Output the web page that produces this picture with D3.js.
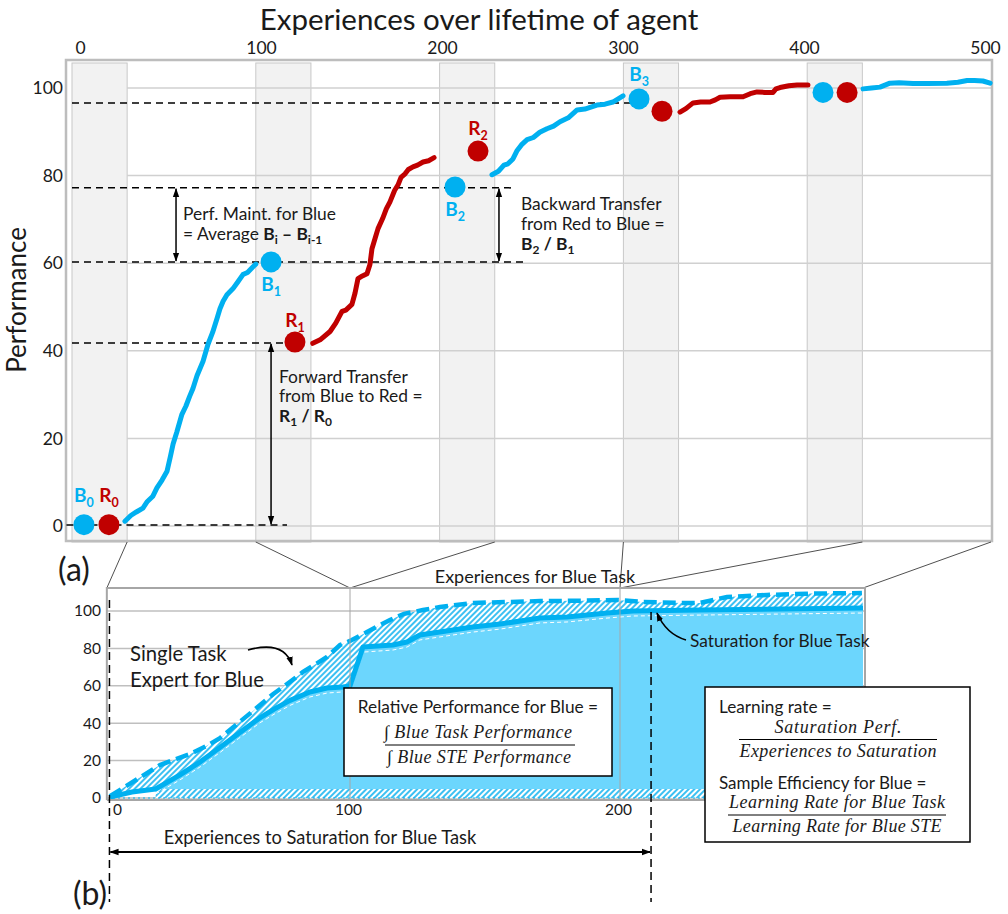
<!DOCTYPE html>
<html><head><meta charset="utf-8">
<script src="https://cdn.jsdelivr.net/npm/d3@7"></script>
<style>
body{margin:0;background:#fff}
svg{display:block}
text{font-family:Lato,"Open Sans",sans-serif;fill:#1a1a1a}
.math{font-family:"Liberation Serif",serif;font-style:italic}
</style>
</head><body>
<svg id="c" width="1008" height="914"></svg>
<script>
// ---------------- DATA ----------------
const topTicks = [0,100,200,300,400,500];
const perfTicks = [0,20,40,60,80,100];
const evalBands = [0,100,200,300,400];     // start of each evaluation block
const evalWidth = 30;

// panel (a) learning curves  [experience, performance]
const blueA1 = [[28.8,1.1],[32,2.4],[35,3.2],[38.6,4.1],[41,5.6],[44,6.8],[46.2,8.7],[49,10.5],[51.7,12.5],[53.5,15.8],[55,18.7],[57,21.4],[59.8,25.5],[62,27.4],[64,29.6],[65.8,31.4],[68,34.3],[71.3,37.6],[74,41.5],[76.5,44.2],[78.9,47.4],[80.5,49.6],[82.2,51.3],[84.3,52.8],[87.6,54.2],[90,55.6],[93,57.4],[95.5,57.9],[98.5,59.2],[100,59.8]];
const redA1 = [[131,41.7],[135,42.5],[140.4,44.4],[143.5,46.3],[146.9,49],[149,49.3],[152.3,50.6],[154,53.2],[155.6,56.5],[158,57.1],[160.5,57.6],[162.1,59.7],[163.2,63.3],[165,65.8],[166.5,67.9],[169,70.2],[171,72.4],[173,74],[175.5,76.6],[177.4,77.9],[179,79.6],[181.2,80.4],[183,81.4],[185.5,82],[188,82.4],[191,83.1],[194,83.4],[197,84.1]];
const blueA2 = [[228.5,80.2],[232,81],[235,82.4],[237.2,82.7],[239.9,83.8],[242,85.6],[244.5,87],[247.6,88.2],[251,88.7],[254.5,89.9],[258.4,90.7],[262,91.3],[265.5,92.3],[270,93.2],[274.8,95],[279,95.2],[285.6,96.1],[290,96.3],[294.3,96.8],[299.8,98.2]];
const redA2 = [[330.8,94.5],[334,95.3],[337.9,96.6],[342,96.8],[347.1,96.8],[350,97.3],[352.6,97.9],[358,98],[365.1,98],[369,98.7],[372.7,99.1],[377,99],[381.4,99],[383,99.8],[385.2,100.1],[390,100.5],[394.5,100.7],[400.4,100.7]];
const blueA3 = [[430.4,99.8],[435,100],[439.6,100.2],[445,101.1],[450,101.2],[457.6,101],[465,101],[476,101.1],[482,101.3],[487,101.7],[491,101.7],[495.6,101.6],[499.5,101.1]];

// evaluation points
const blueEval = [[6.5,0.3],[108.3,60.3],[208.4,77.4],[308.5,97.5],[408.6,99]];
const redEval  = [[20.1,0.3],[121.3,42],[220.9,85.6],[321,94.7],[421.7,99]];

// reference (dashed) levels: [level, fromX, toX]
const refLevels = [[0.2,-3,117],[41.8,0,118.6],[60.3,0,247.6],[77.2,0,241],[96.6,0,303.6]];
// measurement arrows: [x, fromLevel, toLevel]
const measureArrows = [[56.6,77.2,60.3],[108.3,41.8,0.2],[232.3,77.2,60.3]];

// panel (b): blue task vs single-task expert (STE)
const bTicksX = [0,100,200];
const bTicksY = [0,20,40,60,80,100];
const steB = [[-1.3,1],[4.2,5.3],[12,11.5],[19.8,17.6],[26,20.5],[32.5,23.5],[39,27.5],[45.1,32],[52.3,39.5],[60,47.5],[67.5,55.5],[74,61.5],[80.2,67.4],[90.3,75.4],[95.8,81.8],[100,84],[106.3,88.8],[114.8,95.2],[120,98.5],[127,100.5],[133.3,102.1],[145.5,104.3],[158,104.8],[170.4,105.3],[185,105.5],[198.9,105.9],[208.5,104.8],[223.3,104.3],[229.6,104.3],[239.6,107.5],[254.4,108.6],[270,109.3],[289.6,109.6]];
const blueB = [[-1.3,0.5],[8,3.2],[18,4.8],[28.3,12.4],[37,19.5],[45.1,27],[53,34.5],[62,42.9],[68,47.5],[74.7,52.2],[83.1,56.7],[90.3,58.8],[97,59.4],[100,59.9],[104.8,80.7],[115.9,81.8],[121.1,83.4],[125.9,87.2],[133.3,88.8],[145.5,91.4],[155.6,93],[170.4,96.3],[180.4,96.8],[195.2,98.9],[204.8,100],[229.6,100.5],[290,101.6]];
const bottomStrip = [18,290,4.8];     // [fromX, toX, height]
const saturationX = 211.5;
const segmentEdges = [100,200];

// ---------------- DRAW ----------------
const svg = d3.select('#c');
const defs = svg.append('defs');
const pat = defs.append('pattern').attr('id','hatch').attr('patternUnits','userSpaceOnUse')
  .attr('width',4).attr('height',4).attr('patternTransform','rotate(45)');
pat.append('rect').attr('width',4).attr('height',4).attr('fill','#ffffff');
pat.append('rect').attr('width',2).attr('height',4).attr('fill','#3cc0f2');
defs.append('marker').attr('id','ah').attr('viewBox','0 0 10 10').attr('refX',9).attr('refY',5)
  .attr('markerUnits','userSpaceOnUse').attr('markerWidth',9).attr('markerHeight',9)
  .attr('orient','auto-start-reverse')
  .append('path').attr('d','M0,1.5 L10,5 L0,8.5 z').attr('fill','#000');

const BLUE = '#00b0f0', RED = '#c00000';

// ===== Panel (a) =====
const x = d3.scaleLinear().domain([0,500]).range([72,991]);
const y = d3.scaleLinear().domain([0,100]).range([526,88]);
const xTop = x.copy().range([80,985]);
const aTop = 60, aBottom = 541;

svg.append('text').attr('x',479).attr('y',30).attr('text-anchor','middle')
  .style('font-size','29.5px').text('Experiences over lifetime of agent');

const gTop = svg.append('g').attr('transform','translate(0,54)')
  .call(d3.axisTop(xTop).tickValues(topTicks).tickSize(0).tickPadding(0).tickFormat(d3.format('d')));
gTop.select('.domain').remove();
gTop.selectAll('text').style('font-size','17.5px').attr('fill','#1a1a1a').attr('font-family','Lato');

const gLeft = svg.append('g').attr('transform','translate(63,0)')
  .call(d3.axisLeft(y).tickValues(perfTicks).tickSize(0).tickPadding(0));
gLeft.select('.domain').remove();
gLeft.selectAll('text').style('font-size','17.5px').attr('fill','#1a1a1a').attr('font-family','Lato');

svg.append('text').attr('transform','translate(26,300) rotate(-90)').attr('text-anchor','middle')
  .style('font-size','26px').text('Performance');

// bands
svg.append('g').selectAll('rect').data(evalBands).join('rect')
  .attr('x',d=>x(d)).attr('width',d=>x(d+evalWidth)-x(d))
  .attr('y',63).attr('height',aBottom-63+1)
  .attr('fill','#f2f2f2').attr('stroke','#c8c8c8').attr('stroke-width',1);
// gridlines
svg.append('g').selectAll('line').data(perfTicks).join('line')
  .attr('x1',x(evalWidth)).attr('x2',x(500)).attr('y1',d=>y(d)).attr('y2',d=>y(d))
  .attr('stroke','#d0d0d0').attr('stroke-width',1.5);
// frame
svg.append('rect').attr('x',66).attr('y',aTop).attr('width',x(500)-66+1).attr('height',aBottom-aTop)
  .attr('fill','none').attr('stroke','#bdbdbd').attr('stroke-width',2.5);

// dashed reference levels
svg.append('g').selectAll('line').data(refLevels).join('line')
  .attr('x1',d=>x(d[1])).attr('x2',d=>x(d[2])).attr('y1',d=>y(d[0])).attr('y2',d=>y(d[0]))
  .attr('stroke','#000').attr('stroke-width',1.5).attr('stroke-dasharray','7,5');

// measurement arrows
svg.append('g').selectAll('line').data(measureArrows).join('line')
  .attr('x1',d=>x(d[0])).attr('x2',d=>x(d[0])).attr('y1',d=>y(d[1])+1).attr('y2',d=>y(d[2])-1)
  .attr('stroke','#000').attr('stroke-width',1.5)
  .attr('marker-start','url(#ah)').attr('marker-end','url(#ah)');

// curves
const lineA = d3.line().x(d=>x(d[0])).y(d=>y(d[1]));
[[blueA1,BLUE],[redA1,RED],[blueA2,BLUE],[redA2,RED],[blueA3,BLUE]].forEach(([d,c])=>{
  svg.append('path').datum(d).attr('d',lineA).attr('fill','none').attr('stroke',c)
    .attr('stroke-width',5).attr('stroke-linejoin','round').attr('stroke-linecap','round');
});
// eval points
svg.append('g').selectAll('circle').data(blueEval).join('circle')
  .attr('cx',d=>x(d[0])).attr('cy',d=>y(d[1])).attr('r',10.5).attr('fill',BLUE);
svg.append('g').selectAll('circle').data(redEval).join('circle')
  .attr('cx',d=>x(d[0])).attr('cy',d=>y(d[1])).attr('r',10.5).attr('fill',RED);

// point labels (letter, index, color, source point, vertical offset)
const ptLabels = [['B',0,BLUE,blueEval[0],-23],['R',0,RED,redEval[0],-23],
  ['B',1,BLUE,blueEval[1],29],['R',1,RED,redEval[1],-15],
  ['B',2,BLUE,blueEval[2],29],['R',2,RED,redEval[2],-16],['B',3,BLUE,blueEval[3],-18]];
ptLabels.forEach(([L,i,c,p,dy])=>{
  const t = svg.append('text').attr('x',x(p[0])).attr('y',y(p[1])+dy).attr('text-anchor','middle')
    .style('font-size','19px').style('font-weight','bold').style('fill',c);
  t.append('tspan').text(L);
  t.append('tspan').attr('dy',5).style('font-size','12.5px').text(i);
});

// annotation texts (a)
function rich(xp,yp,parts,size){
  const t = svg.append('text').attr('x',xp).attr('y',yp).style('font-size',(size||17.4)+'px');
  parts.forEach(p=>{
    const s = t.append('tspan').text(p.t);
    if(p.b) s.style('font-weight','bold');
    if(p.sub){ s.attr('dy',4).style('font-size','12px'); }
    if(p.up) s.attr('dy',-4);
  });
  return t;
}
rich(183,220,[{t:'Perf. Maint. for Blue'}]);
rich(183,240,[{t:'= Average '},{t:'B',b:1},{t:'i',b:1,sub:1},{t:' \u2013 B',b:1,up:1},{t:'i-1',b:1,sub:1}]);
rich(279,383,[{t:'Forward Transfer'}]);
rich(279,402,[{t:'from Blue to Red ='}]);
rich(279,422,[{t:'R',b:1},{t:'1',b:1,sub:1},{t:' / R',b:1,up:1},{t:'0',b:1,sub:1}]);
rich(521,210,[{t:'Backward Transfer'}]);
rich(521,230,[{t:'from Red to Blue ='}]);
rich(521,250,[{t:'B',b:1},{t:'2',b:1,sub:1},{t:' / B',b:1,up:1},{t:'1',b:1,sub:1}]);

svg.append('text').attr('x',58).attr('y',581).style('font-size','32px').text('(a)');
svg.append('text').attr('x',73).attr('y',905).style('font-size','32px').text('(b)');

// ===== Panel (b) =====
const xb = d3.scaleLinear().domain([0,100,200,290]).range([113,350,620,863]);
const yb = d3.scaleLinear().domain([0,100]).range([798,611]);
const bLeft = xb(-2.6), bRight = xb(290)+2, bTop = 588, bBottom = 800;

// zoom connector lines
const connectors = [[evalWidth,-2.6],[100,100],[200+evalWidth,100],[300,200],[400+evalWidth,200],[500,290]];
svg.append('g').selectAll('line').data(connectors).join('line')
  .attr('x1',d=>x(d[0])).attr('y1',aBottom+1).attr('x2',d=>xb(d[1])).attr('y2',bTop)
  .attr('stroke','#505050').attr('stroke-width',1);

svg.append('text').attr('x',535).attr('y',583).attr('text-anchor','middle')
  .style('font-size','18px').text('Experiences for Blue Task');

// grid (b)
svg.append('g').selectAll('line').data(bTicksY).join('line')
  .attr('x1',bLeft).attr('x2',bRight).attr('y1',d=>yb(d)).attr('y2',d=>yb(d))
  .attr('stroke','#bfbfbf').attr('stroke-width',1.5);

const lineB = d3.line().x(d=>xb(d[0])).y(d=>yb(d[1]));
// hatched gap between STE and blue task
svg.append('path').attr('d', lineB(steB.concat(blueB.slice().reverse())) + 'Z')
  .attr('fill','url(#hatch)');
// filled area under blue task
const areaB = d3.area().x(d=>xb(d[0])).y0(yb(bottomStrip[2])).y1(d=>yb(d[1]));
svg.append('path').datum(blueB.filter(d=>d[0]>=bottomStrip[0])).attr('d',areaB).attr('fill','#6cd6fd');
// bottom hatched strip
svg.append('rect').attr('x',xb(bottomStrip[0])).attr('width',xb(bottomStrip[1])-xb(bottomStrip[0]))
  .attr('y',yb(bottomStrip[2])).attr('height',yb(0)-yb(bottomStrip[2])).attr('fill','url(#hatch)');
svg.append('line').attr('x1',xb(0)).attr('x2',xb(290)).attr('y1',yb(0)).attr('y2',yb(0))
  .attr('stroke',BLUE).attr('stroke-width',1.2).attr('stroke-dasharray','2,3');
// white dashed lower edge of hatch
svg.append('path').datum(blueB.filter(d=>d[0]>=18)).attr('d',lineB).attr('fill','none')
  .attr('stroke','#fff').attr('stroke-width',1).attr('stroke-dasharray','4,3')
  .attr('transform','translate(0,5)');
// blue task line
svg.append('path').datum(blueB).attr('d',lineB).attr('fill','none').attr('stroke',BLUE)
  .attr('stroke-width',5).attr('stroke-linejoin','round');
// STE dashed line
svg.append('path').datum(steB).attr('d',lineB).attr('fill','none').attr('stroke',BLUE)
  .attr('stroke-width',4.5).attr('stroke-dasharray','13,6');

// segment edges
svg.append('g').selectAll('line').data(segmentEdges).join('line')
  .attr('x1',d=>xb(d)).attr('x2',d=>xb(d)).attr('y1',bTop).attr('y2',bBottom)
  .attr('stroke','#a6a6a6').attr('stroke-width',1);
// frame (b)
svg.append('path').attr('d',`M${bLeft},${bBottom} V${bTop} H${bRight} V${bBottom} H${bLeft}`)
  .attr('fill','none').attr('stroke','#a6a6a6').attr('stroke-width',2);

// axes (b)
const gbl = svg.append('g').attr('transform','translate(101,0)')
  .call(d3.axisLeft(yb).tickValues(bTicksY).tickSize(0).tickPadding(0));
gbl.select('.domain').remove();
gbl.selectAll('text').style('font-size','15.5px').attr('fill','#1a1a1a').attr('font-family','Lato');
const gbb = svg.append('g').attr('transform','translate(0,804)')
  .call(d3.axisBottom(xb).tickValues(bTicksX).tickSize(0).tickPadding(0));
gbb.select('.domain').remove();
gbb.selectAll('text').style('font-size','15.5px').attr('fill','#1a1a1a').attr('font-family','Lato')
  .attr('dx',d=>d===0?4:-2);

// dashed verticals: start and saturation
[[ -1.5, 600],[saturationX, 612]].forEach(([d,top])=>{
  svg.append('line').attr('x1',xb(d)).attr('x2',xb(d)).attr('y1',top).attr('y2',902)
    .attr('stroke','#000').attr('stroke-width',1.5).attr('stroke-dasharray','8,5');
});
svg.append('line').attr('x1',xb(-1.5)+1).attr('x2',xb(saturationX)-1).attr('y1',852).attr('y2',852)
  .attr('stroke','#000').attr('stroke-width',2).attr('marker-start','url(#ah)').attr('marker-end','url(#ah)');
svg.append('text').attr('x',320).attr('y',844).attr('text-anchor','middle').style('font-size','18.3px')
  .text('Experiences to Saturation for Blue Task');

// Single task expert label
svg.append('text').attr('x',130).attr('y',661).style('font-size','20.3px').text('Single Task');
svg.append('text').attr('x',130).attr('y',687).style('font-size','20.3px').text('Expert for Blue');
svg.append('path').attr('d','M248,650 Q284,640 292,665').attr('fill','none').attr('stroke','#000')
  .attr('stroke-width',1.6).attr('marker-end','url(#ah)');

// Saturation label
svg.append('text').attr('x',690).attr('y',647).style('font-size','17.3px').text('Saturation for Blue Task');
svg.append('path').attr('d','M686,640 Q666,634 657,613').attr('fill','none').attr('stroke','#000')
  .attr('stroke-width',1.6).attr('marker-end','url(#ah)');

// Box: relative performance
svg.append('rect').attr('x',344).attr('y',688).attr('width',268).attr('height',88)
  .attr('fill','#fff').attr('stroke','#000').attr('stroke-width',1.5);
svg.append('text').attr('x',478).attr('y',713).attr('text-anchor','middle').style('font-size','17.3px')
  .text('Relative Performance for Blue =');
svg.append('text').attr('class','math').attr('x',478).attr('y',738).attr('text-anchor','middle')
  .style('font-size','18px').attr('textLength',188).attr('lengthAdjust','spacing').text('\u222B Blue Task Performance');
svg.append('line').attr('x1',385).attr('x2',575).attr('y1',745).attr('y2',745).attr('stroke','#000').attr('stroke-width',1);
svg.append('text').attr('class','math').attr('x',479).attr('y',763).attr('text-anchor','middle')
  .style('font-size','18px').attr('textLength',184).attr('lengthAdjust','spacing').text('\u222B Blue STE Performance');

// Box: learning rate / sample efficiency
svg.append('rect').attr('x',705).attr('y',687).attr('width',265).attr('height',155)
  .attr('fill','#fff').attr('stroke','#000').attr('stroke-width',1.5);
svg.append('text').attr('x',719).attr('y',713).style('font-size','17.2px').text('Learning rate =');
svg.append('text').attr('class','math').attr('x',838).attr('y',733).attr('text-anchor','middle')
  .style('font-size','18px').attr('textLength',127).attr('lengthAdjust','spacing').text('Saturation Perf.');
svg.append('line').attr('x1',739).attr('x2',937).attr('y1',739.5).attr('y2',739.5).attr('stroke','#000').attr('stroke-width',1);
svg.append('text').attr('class','math').attr('x',838).attr('y',757).attr('text-anchor','middle')
  .style('font-size','18px').attr('textLength',197).attr('lengthAdjust','spacing').text('Experiences to Saturation');
svg.append('text').attr('x',719).attr('y',789).style('font-size','17px').text('Sample Efficiency for Blue =');
svg.append('text').attr('class','math').attr('x',837).attr('y',808).attr('text-anchor','middle')
  .style('font-size','18px').attr('textLength',216).attr('lengthAdjust','spacing').text('Learning Rate for Blue Task');
svg.append('line').attr('x1',728).attr('x2',946).attr('y1',815).attr('y2',815).attr('stroke','#000').attr('stroke-width',1);
svg.append('text').attr('class','math').attr('x',837).attr('y',832).attr('text-anchor','middle')
  .style('font-size','18px').attr('textLength',209).attr('lengthAdjust','spacing').text('Learning Rate for Blue STE');
</script>
</body></html>
